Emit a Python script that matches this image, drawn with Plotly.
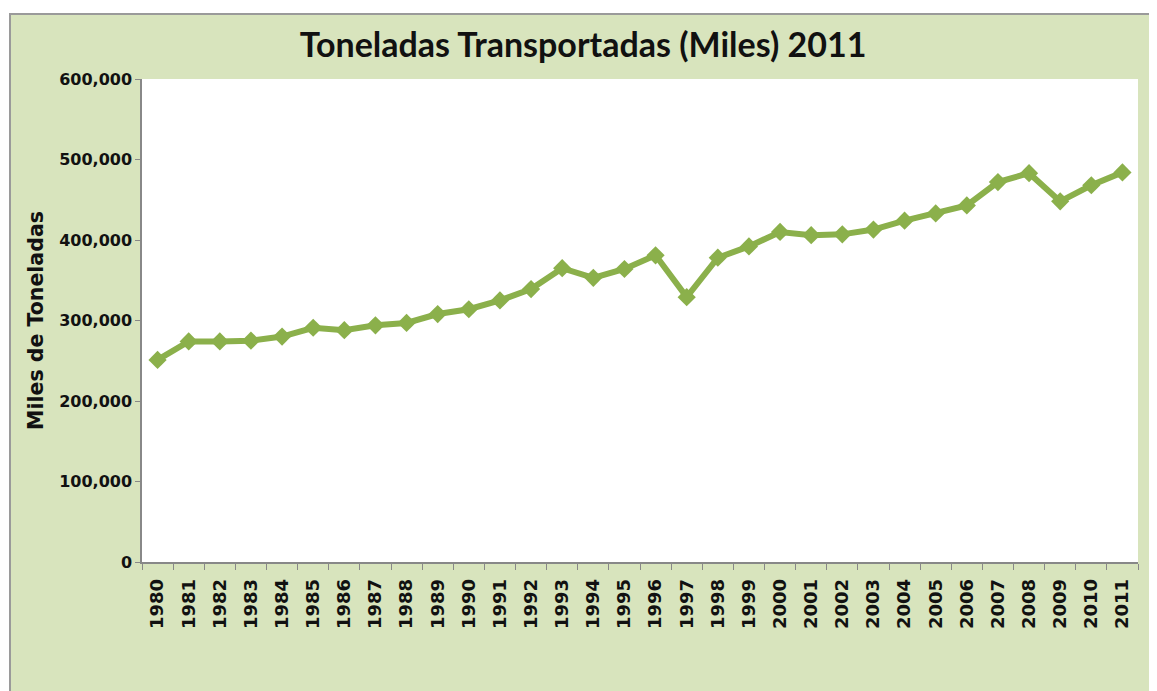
import plotly.graph_objects as go

years = [str(y) for y in range(1980, 2012)]
tons = [251000, 274000, 274000, 275000, 280000, 291000, 288000, 294000, 297000, 308000,
        314000, 325000, 339000, 365000, 353000, 364000, 381000, 329000, 378000, 392000,
        410000, 406000, 407000, 413000, 424000, 433000, 443000, 472000, 483000, 448000,
        468000, 484000]

title_text = "Toneladas Transportadas (Miles) 2011"
y_title = "Miles de Toneladas"
y_ticks = [0, 100000, 200000, 300000, 400000, 500000, 600000]

green_line = "#8BB04B"
bg_green = "#D8E4BD"

fig = go.Figure()
fig.add_trace(go.Scatter(
    x=years, y=tons, mode="lines+markers",
    line=dict(color=green_line, width=6),
    marker=dict(symbol="diamond", size=14, color=green_line),
    showlegend=False, cliponaxis=False,
))

# page offset of 8px (body margin) taken into account
W, H = 1149, 683
ml, mr, mt, mb = 134, 19, 71, 129
pw, ph = W - ml - mr, H - mt - mb

def px_x(px):
    return (px - ml) / pw

def px_y(py):
    return (H - mb - py) / ph

fig.update_layout(
    width=W, height=H,
    margin=dict(l=ml, r=mr, t=mt, b=mb),
    paper_bgcolor="white",
    plot_bgcolor="white",
    title=dict(text=title_text, x=(583 - 8) / W, xanchor="center", y=1 - 37 / H, yanchor="middle",
               font=dict(family="Lato", size=34, color="#111111", weight="bold")),
    shapes=[
        dict(type="rect", xref="paper", yref="paper", layer="below",
             x0=px_x(2), x1=px_x(1200), y0=px_y(720), y1=px_y(6),
             fillcolor=bg_green, line=dict(color="#9a9a9a", width=2)),
        dict(type="rect", xref="paper", yref="paper", layer="below",
             x0=0, x1=1, y0=0, y1=1, fillcolor="white", line=dict(width=0)),
    ],
    xaxis=dict(
        type="category", range=[-0.5, 31.5],
        tickson="boundaries", ticks="outside", ticklen=6, tickcolor="#888888",
        showline=True, linecolor="#888888", linewidth=1.5,
        tickangle=-90, showgrid=False, ticklabelstandoff=8,
        tickfont=dict(family="DejaVu Sans", size=18, color="#111111", weight="bold"),
        tickvals=years, ticktext=years,
    ),
    yaxis=dict(
        range=[0, 600000], tickvals=y_ticks, ticktext=[f"{v:,}" for v in y_ticks],
        ticks="outside", ticklen=5, tickcolor="#888888",
        showline=True, linecolor="#888888", linewidth=1.5, showgrid=False, zeroline=False,
        tickfont=dict(family="DejaVu Sans", size=16, color="#111111", weight="bold"),
        title=dict(text=y_title, standoff=10,
                   font=dict(family="DejaVu Sans", size=20.5, color="#111111", weight="bold")),
    ),
)

fig.write_html("out.html")
